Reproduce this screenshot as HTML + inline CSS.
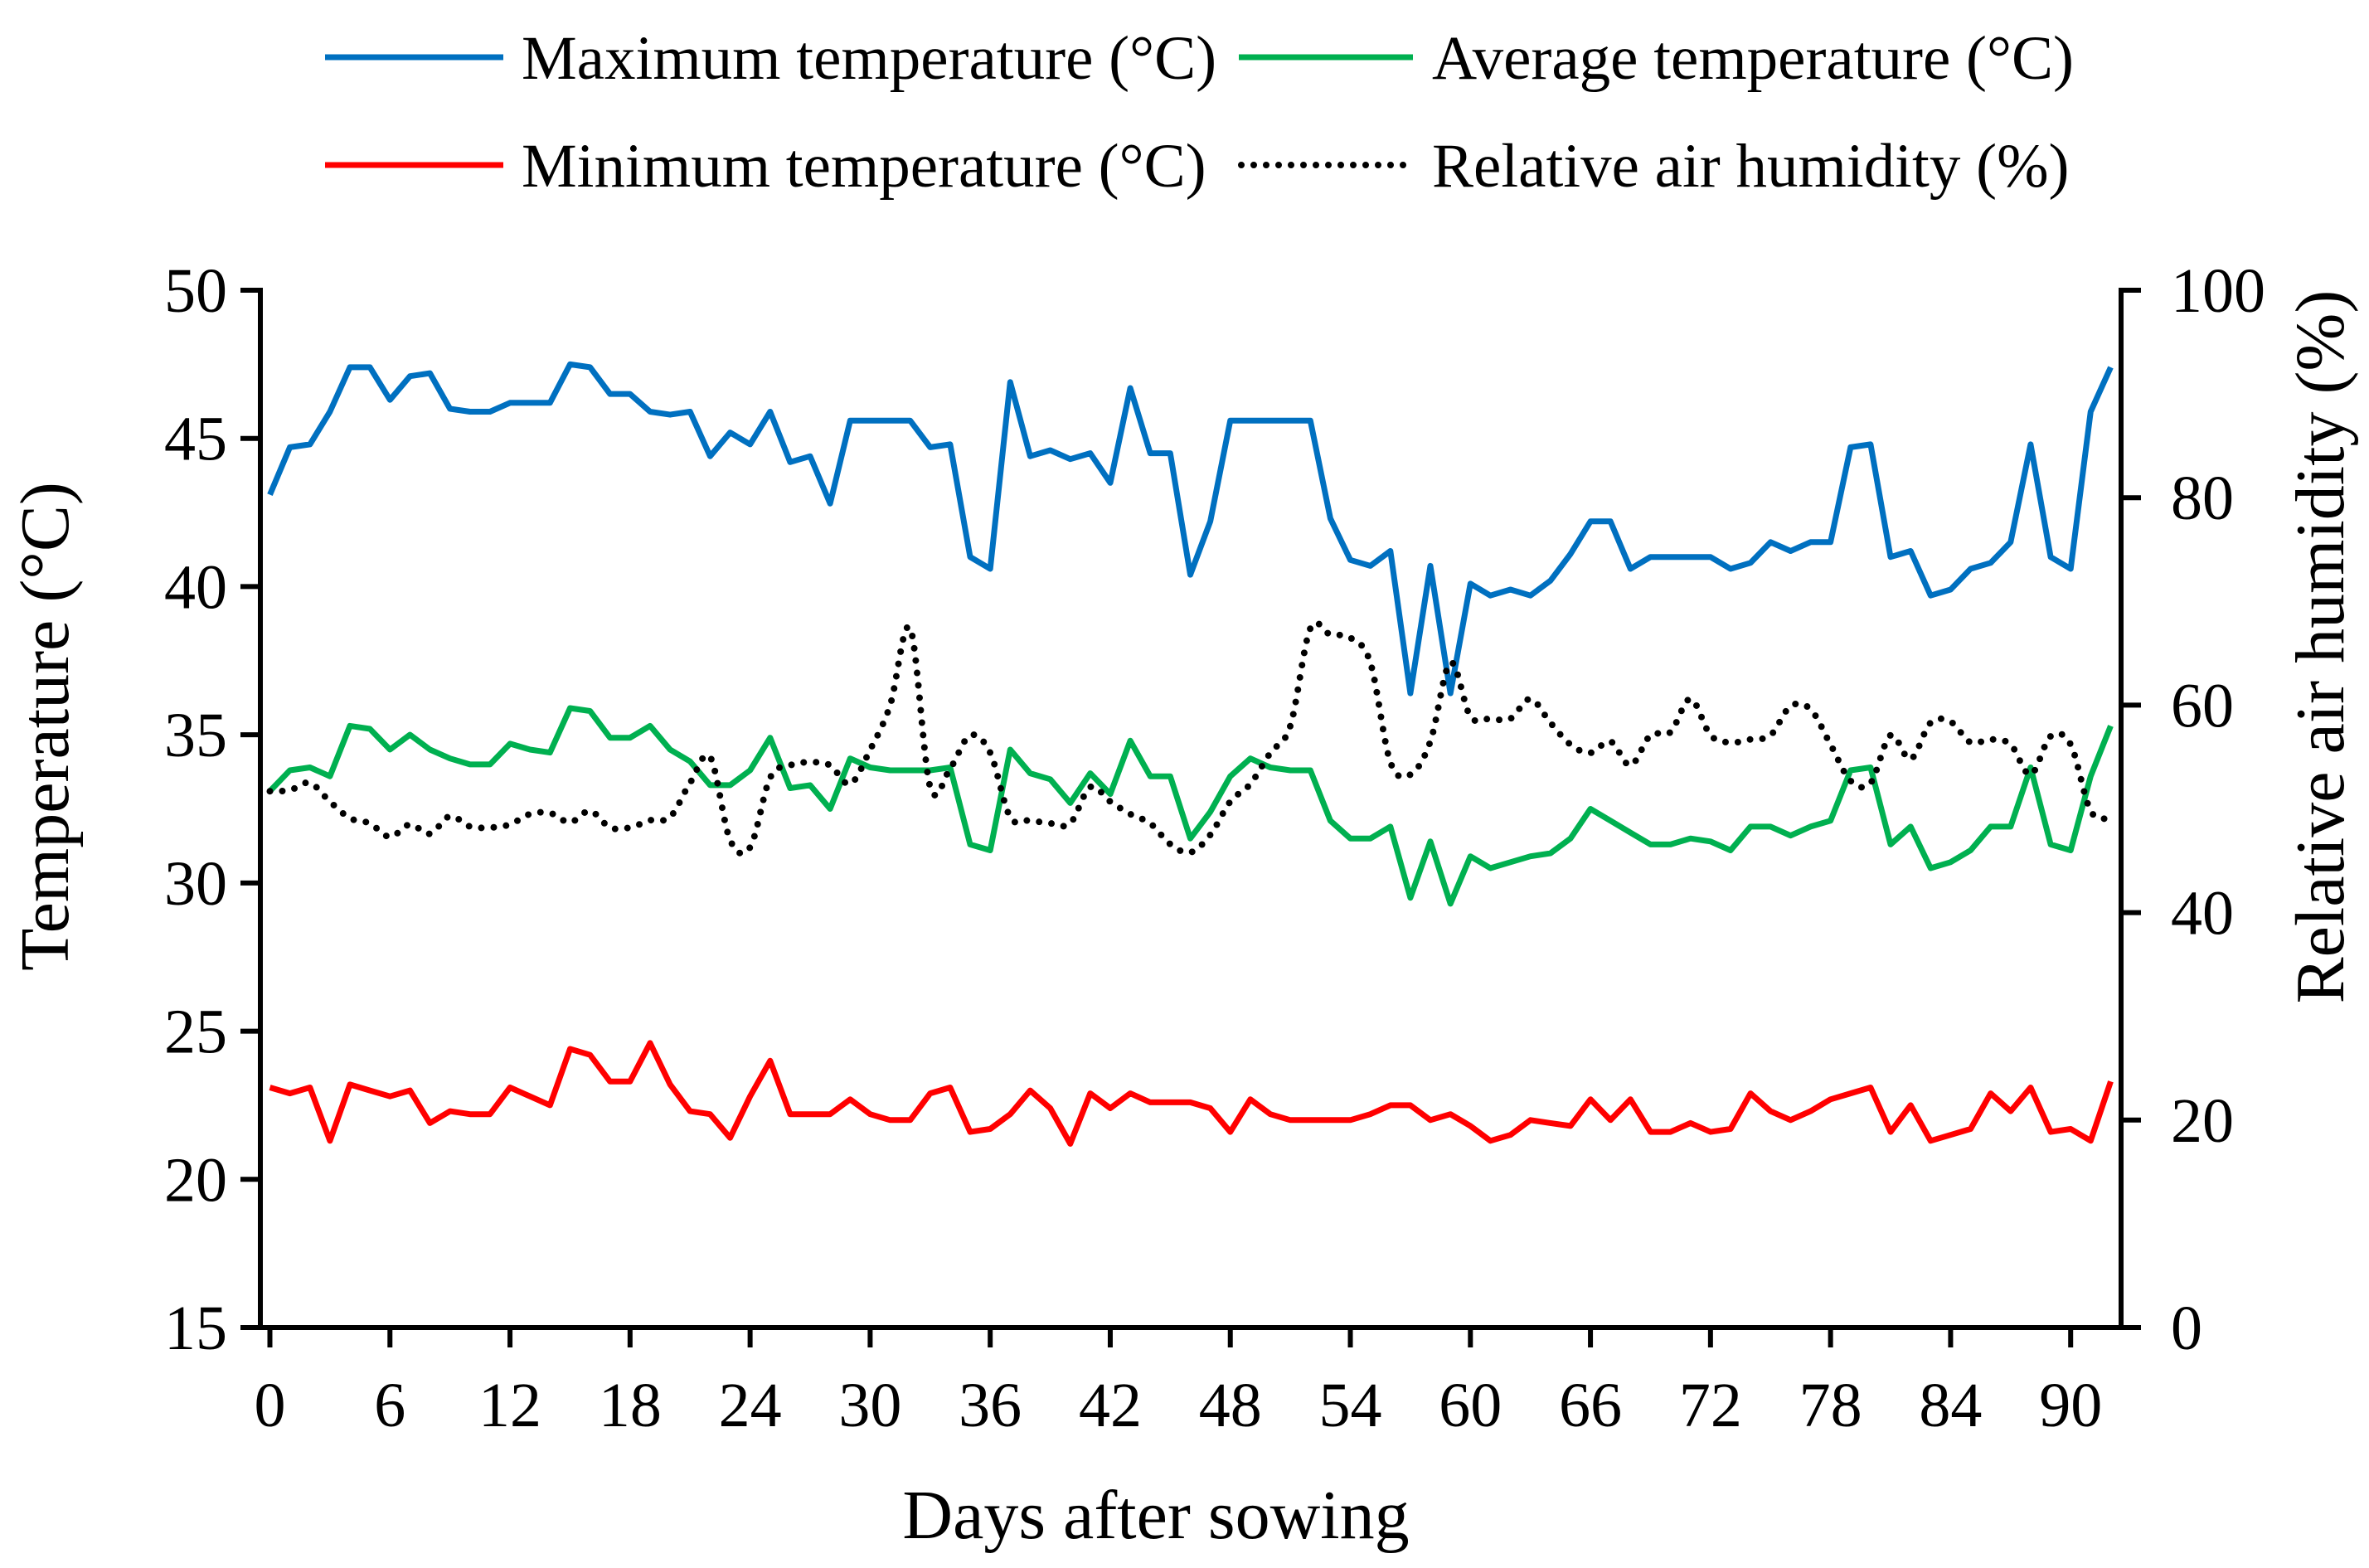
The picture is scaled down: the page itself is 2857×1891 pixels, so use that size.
<!DOCTYPE html>
<html><head><meta charset="utf-8"><style>
html,body{margin:0;padding:0;background:#fff;}
svg{display:block;font-family:"Liberation Serif","DejaVu Serif",serif;}
</style></head><body>
<svg id="chart" width="2857" height="1891" viewBox="0 0 2857 1891" xmlns="http://www.w3.org/2000/svg">
<g id="legend">
 <g><line x1="392" y1="69" x2="607" y2="69" stroke="#0070C0" stroke-width="7"/><text x="629" y="95" font-size="75">Maximum temperature (°C)</text></g>
 <g><line x1="1494" y1="69" x2="1704" y2="69" stroke="#00B050" stroke-width="7"/><text x="1727" y="95" font-size="75">Average temperature (°C)</text></g>
 <g><line x1="392" y1="199" x2="607" y2="199" stroke="#FF0000" stroke-width="7"/><text x="629" y="225" font-size="75">Minimum temperature (°C)</text></g>
 <g><line x1="1497" y1="199" x2="1704" y2="199" stroke="#000" stroke-width="8" stroke-linecap="round" stroke-dasharray="0 15"/><text x="1727" y="225" font-size="75">Relative air humidity (%)</text></g>
</g>
<g id="axes"></g>
<g id="series"></g>
<text x="1394" y="1855" font-size="84" text-anchor="middle">Days after sowing</text>
<text transform="translate(82,876) rotate(-90)" font-size="84" text-anchor="middle">Temperature (°C)</text>
<text transform="translate(2826,780) rotate(-90)" font-size="84" text-anchor="middle">Relative air humidity (%)</text>
</svg>
<script>
const days = Array.from({length:93},(_, i)=>i);
const maxTemp = [43.1,44.7,44.8,45.9,47.4,47.4,46.3,47.1,47.2,46.0,45.9,45.9,46.2,46.2,46.2,47.5,47.4,46.5,46.5,45.9,45.8,45.9,44.4,45.2,44.8,45.9,44.2,44.4,42.8,45.6,45.6,45.6,45.6,44.7,44.8,41.0,40.6,46.9,44.4,44.6,44.3,44.5,43.5,46.7,44.5,44.5,40.4,42.2,45.6,45.6,45.6,45.6,45.6,42.3,40.9,40.7,41.2,36.4,40.7,36.4,40.1,39.7,39.9,39.7,40.2,41.1,42.2,42.2,40.6,41.0,41.0,41.0,41.0,40.6,40.8,41.5,41.2,41.5,41.5,44.7,44.8,41.0,41.2,39.7,39.9,40.6,40.8,41.5,44.8,41.0,40.6,45.9,47.4];
const avgTemp = [33.1,33.8,33.9,33.6,35.3,35.2,34.5,35.0,34.5,34.2,34.0,34.0,34.7,34.5,34.4,35.9,35.8,34.9,34.9,35.3,34.5,34.1,33.3,33.3,33.8,34.9,33.2,33.3,32.5,34.2,33.9,33.8,33.8,33.8,33.9,31.3,31.1,34.5,33.7,33.5,32.7,33.7,33.0,34.8,33.6,33.6,31.5,32.4,33.6,34.2,33.9,33.8,33.8,32.1,31.5,31.5,31.9,29.5,31.4,29.3,30.9,30.5,30.7,30.9,31.0,31.5,32.5,32.1,31.7,31.3,31.3,31.5,31.4,31.1,31.9,31.9,31.6,31.9,32.1,33.8,33.9,31.3,31.9,30.5,30.7,31.1,31.9,31.9,33.9,31.3,31.1,33.6,35.3];
const minTemp = [23.1,22.9,23.1,21.3,23.2,23.0,22.8,23.0,21.9,22.3,22.2,22.2,23.1,22.8,22.5,24.4,24.2,23.3,23.3,24.6,23.2,22.3,22.2,21.4,22.8,24.0,22.2,22.2,22.2,22.7,22.2,22.0,22.0,22.9,23.1,21.6,21.7,22.2,23.0,22.4,21.2,22.9,22.4,22.9,22.6,22.6,22.6,22.4,21.6,22.7,22.2,22.0,22.0,22.0,22.0,22.2,22.5,22.5,22.0,22.2,21.8,21.3,21.5,22.0,21.9,21.8,22.7,22.0,22.7,21.6,21.6,21.9,21.6,21.7,22.9,22.3,22.0,22.3,22.7,22.9,23.1,21.6,22.5,21.3,21.5,21.7,22.9,22.3,23.1,21.6,21.7,21.3,23.3];
const humidity = [51.7,51.8,52.5,50.7,49.1,48.6,47.3,48.5,47.6,49.3,48.3,48.2,48.5,49.5,49.6,48.7,49.8,48.2,48.2,48.9,49.2,52.5,55.0,47.0,46.3,53.0,54.2,54.5,54.2,52.4,55.7,60.0,67.4,52.1,53.9,57.1,55.4,49.2,48.9,48.6,48.6,52.1,50.7,49.5,48.6,46.6,45.8,47.5,50.7,52.4,55.4,58.0,67.4,66.8,66.5,64.1,54.5,53.3,56.5,64.1,58.9,58.7,58.7,60.6,58.3,56.2,55.4,56.5,54.2,57.1,57.4,60.6,57.1,56.4,56.7,57.1,59.9,59.6,56.2,52.7,52.5,57.1,54.8,58.3,58.4,56.4,56.7,56.2,53.3,57.0,56.2,49.8,49.1];
const xTicks = [0,6,12,18,24,30,36,42,48,54,60,66,72,78,84,90];
const yTicksLeft = [15,20,25,30,35,40,45,50];
const yTicksRight = [0,20,40,60,80,100];

const NS='http://www.w3.org/2000/svg';
const L=314, R=2558, T=350, B=1601, X0=325.5, DX=24.13;
const xs = d => X0 + d*DX;
const yT = v => B - (v-15)/35*(B-T);
const yH = v => B - v/100*(B-T);
function mk(tag, attrs, parent){const e=document.createElementNS(NS,tag);for(const k in attrs)e.setAttribute(k,attrs[k]);parent.appendChild(e);return e;}
const axes=document.getElementById('axes'), series=document.getElementById('series');

const xa=mk('line',{x1:L,y1:B,x2:R,y2:B,stroke:'#000','stroke-width':6},axes);


const yl=mk('line',{x1:L,y1:T-3,x2:L,y2:B+3,stroke:'#000','stroke-width':6},axes);


const yr=mk('line',{x1:R,y1:T-3,x2:R,y2:B+3,stroke:'#000','stroke-width':6},axes);



xTicks.forEach(d=>{
  const x=xs(d);
  const t=mk('line',{x1:x,y1:B,x2:x,y2:B+24,stroke:'#000','stroke-width':6},axes);
  
  
  const lb=mk('text',{x:x,y:1720,'font-size':76,'text-anchor':'middle'},axes);
  lb.textContent=d;
  
  
});
yTicksLeft.forEach(v=>{
  const y=yT(v);
  const t=mk('line',{x1:L-24,y1:y,x2:L,y2:y,stroke:'#000','stroke-width':6},axes);
  
  
  const lb=mk('text',{x:274,y:y+26,'font-size':76,'text-anchor':'end'},axes);
  lb.textContent=v;
  
  
});
yTicksRight.forEach(v=>{
  const y=yH(v);
  const t=mk('line',{x1:R,y1:y,x2:R+24,y2:y,stroke:'#000','stroke-width':6},axes);
  
  
  const lb=mk('text',{x:2618,y:y+26,'font-size':76,'text-anchor':'start'},axes);
  lb.textContent=v;
  
  
});

function poly(vals, yf){return vals.map((v,i)=>(i?'L':'M')+xs(days[i]).toFixed(1)+' '+yf(v).toFixed(1)).join(' ');}
function smooth(vals, yf){
  const p=vals.map((v,i)=>[xs(days[i]),yf(v)]);
  let d='M'+p[0][0].toFixed(1)+' '+p[0][1].toFixed(1);
  for(let i=0;i<p.length-1;i++){
    const p0=p[Math.max(0,i-1)],p1=p[i],p2=p[i+1],p3=p[Math.min(p.length-1,i+2)];
    const c1=[p1[0]+(p2[0]-p0[0])/6,p1[1]+(p2[1]-p0[1])/6];
    const c2=[p2[0]-(p3[0]-p1[0])/6,p2[1]-(p3[1]-p1[1])/6];
    d+=' C'+c1.map(n=>n.toFixed(1)).join(' ')+' '+c2.map(n=>n.toFixed(1)).join(' ')+' '+p2[0].toFixed(1)+' '+p2[1].toFixed(1);
  }
  return d;
}
const sMax=mk('path',{d:poly(maxTemp,yT),fill:'none',stroke:'#0070C0','stroke-width':7,'stroke-linejoin':'round'},series);


const sAvg=mk('path',{d:poly(avgTemp,yT),fill:'none',stroke:'#00B050','stroke-width':7,'stroke-linejoin':'round'},series);


const sMin=mk('path',{d:poly(minTemp,yT),fill:'none',stroke:'#FF0000','stroke-width':7,'stroke-linejoin':'round'},series);


const sHum=mk('path',{d:smooth(humidity,yH),fill:'none',stroke:'#000','stroke-width':8,'stroke-linecap':'round','stroke-dasharray':'0 15'},series);


</script>
</body></html>
